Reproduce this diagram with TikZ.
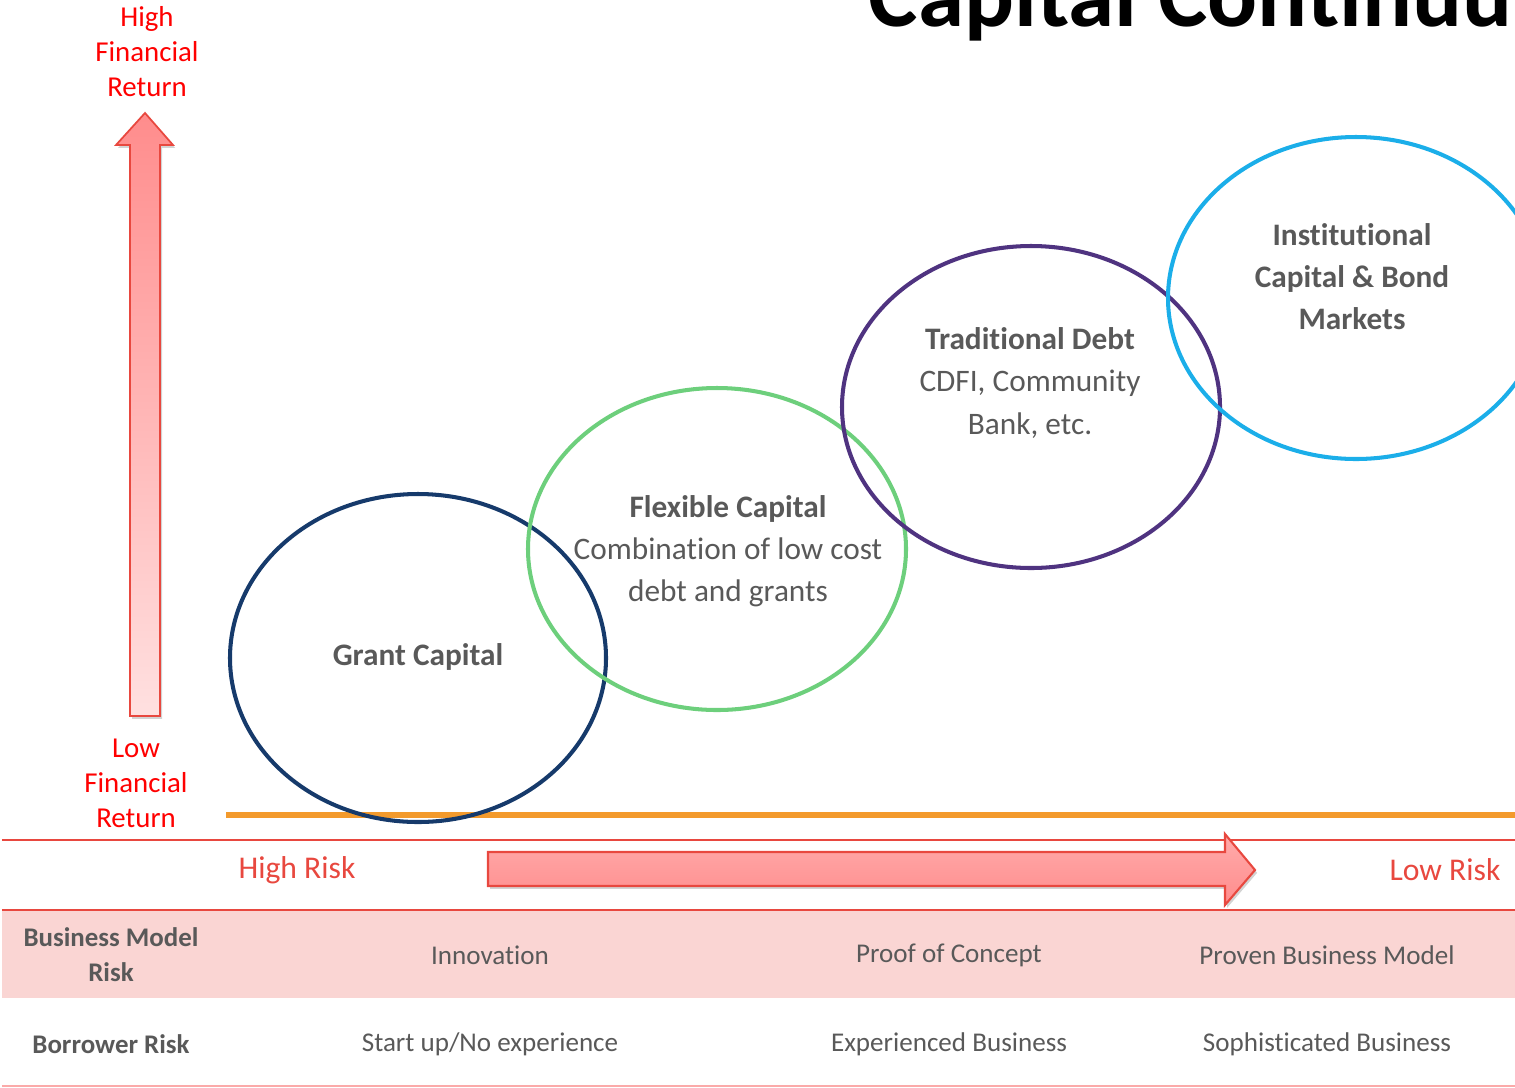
\documentclass[tikz,border=0pt]{standalone}
\usepackage{fontspec}
\setmainfont{Carlito}[Ligatures={NoCommon,NoContextual}]
\usetikzlibrary{shadows}
\definecolor{riskred}{HTML}{E8483F}
\definecolor{bandpink}{HTML}{FAD5D3}
\definecolor{txtgray}{HTML}{595959}
\definecolor{grantblue}{HTML}{163A6B}
\definecolor{flexgreen}{HTML}{6DCF7C}
\definecolor{debtpurple}{HTML}{4F3380}
\definecolor{instcyan}{HTML}{1BAEE9}
\definecolor{baseorange}{HTML}{F39A2C}
\begin{document}
\begin{tikzpicture}[x=0.01cm,y=-0.01cm,
    redlbl/.style={text=red, align=center, font=\fontsize{8.2}{9.95}\selectfont},
    risklbl/.style={text=riskred, font=\fontsize{9}{11}\selectfont},
    bubble/.style={line width=1.15pt},
    bubtxt/.style={text=txtgray, align=center, font=\fontsize{8.9}{11.95}\selectfont},
    rowhead/.style={text=txtgray, align=center, font=\bfseries\fontsize{7.65}{9.95}\selectfont},
    rowtxt/.style={text=txtgray, font=\fontsize{7.7}{9.5}\selectfont},
    softshadow/.style={drop shadow={shadow xshift=0.6pt, shadow yshift=-0.8pt, opacity=0.35}}]
    \useasboundingbox (0,0) rectangle (1515,1087);
    % title, cut off by the page edge
    \node[anchor=base west, inner sep=0, font=\bfseries\fontsize{26.5}{30}\selectfont] (title) at (868,26) {Capital Continuum};
    % vertical return arrow
    \shade[top color=red!45!white, bottom color=red!12!white, draw=riskred, line width=0.5pt, softshadow]
        (130,716)--(130,145)--(116,145)--(145,113)--(173,145)--(160,145)--(160,716)--cycle;
    \node[redlbl] (highret) at (147,52) {High\\Financial\\Return};
    \node[redlbl] (lowret) at (136,783) {Low\\Financial\\Return};
    % base line
    \draw[baseorange, line width=1.8pt, softshadow] (226,815)--(1515,815);
    % capital bubbles
    \draw[bubble, grantblue] (418,658) ellipse [x radius=188, y radius=164];
    \draw[bubble, flexgreen] (717,549) ellipse [x radius=189, y radius=161];
    \draw[bubble, debtpurple] (1031,407) ellipse [x radius=189, y radius=161];
    \draw[bubble, instcyan] (1356,298) ellipse [x radius=188, y radius=161];
    \node[bubtxt, font=\bfseries\fontsize{8.9}{11.95}\selectfont] (grant) at (418,657) {Grant Capital};
    \node[bubtxt] (flex) at (728,551) {\textbf{Flexible Capital}\\Combination of low cost\\debt and grants};
    \node[bubtxt] (debt) at (1030,383) {\textbf{Traditional Debt}\\CDFI, Community\\Bank, etc.};
    \node[bubtxt, font=\bfseries\fontsize{8.9}{11.95}\selectfont] (inst) at (1352,277) {Institutional\\Capital \& Bond\\Markets};
    % risk row
    \draw[riskred, line width=0.6pt] (2,840)--(1515,840);
    \fill[bandpink] (2,910) rectangle (1515,998);
    \draw[riskred, line width=0.6pt] (2,910)--(1515,910);
    \draw[bandpink!80!red, line width=0.4pt] (2,1086)--(1515,1086);
    \shade[top color=red!33!white, bottom color=red!45!white, draw=riskred, line width=0.6pt, softshadow]
        (488,852)--(1225,852)--(1225,834)--(1255,870)--(1225,905)--(1225,886)--(488,886)--cycle;
    \node[risklbl] (highrisk) at (297,870) {High Risk};
    \node[risklbl] (lowrisk) at (1445,870) {Low Risk};
    % table
    \node[rowhead] (bmrisk) at (111,955) {Business Model\\Risk};
    \node[rowtxt] (innov) at (490,955) {Innovation};
    \node[rowtxt] (proof) at (949,955) {Proof of Concept};
    \node[rowtxt] (proven) at (1327,955) {Proven Business Model};
    \node[rowhead] (brisk) at (111,1044) {Borrower Risk};
    \node[rowtxt] (startup) at (490,1044) {Start up/No experience};
    \node[rowtxt] (exper) at (949,1044) {Experienced Business};
    \node[rowtxt] (sophis) at (1327,1044) {Sophisticated Business};
\end{tikzpicture}
\end{document}
